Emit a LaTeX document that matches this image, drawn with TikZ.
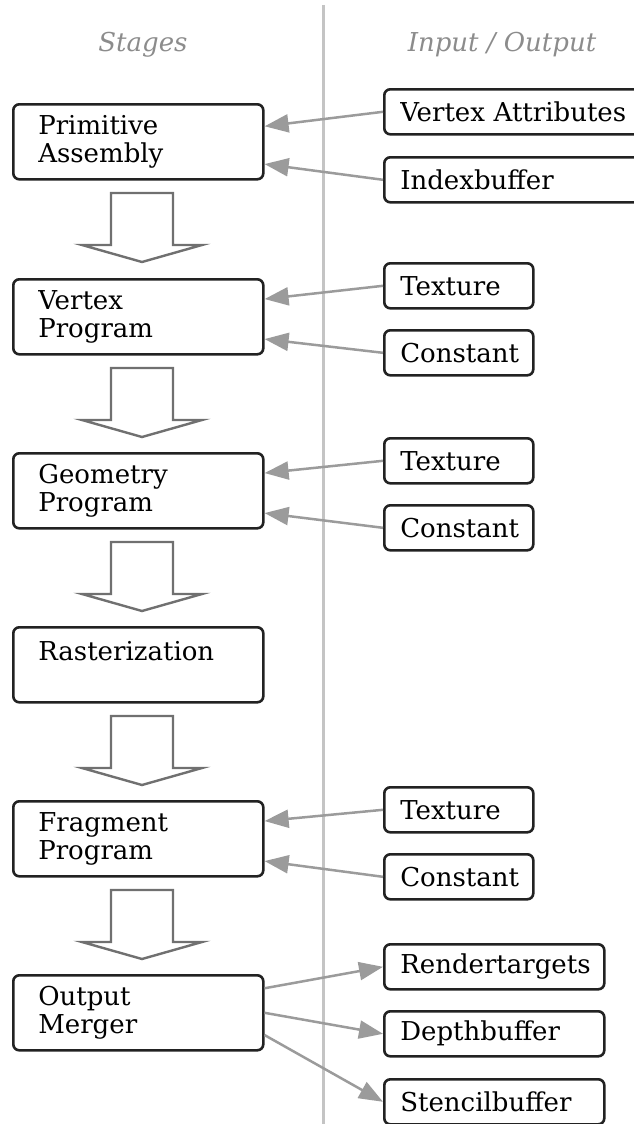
\documentclass[tikz,border=0pt]{standalone}
\usepackage{fontspec}
\setmainfont{DejaVu Serif}
\usepackage{xcolor}
\usepackage{tikz}
\usetikzlibrary{arrows.meta}

\definecolor{feedgray}{RGB}{155,155,155}
\definecolor{rulegray}{RGB}{196,196,196}
\definecolor{headgray}{RGB}{140,140,140}
\definecolor{flowgray}{RGB}{112,112,112}

\tikzset{
  stagebox/.style={draw={rgb, 255:red, 34; green, 34; blue, 34}, line width=2.6pt, rounded corners=6pt, anchor=north west,
    minimum width=250pt, minimum height=75pt, text width=200pt, inner xsep=25pt, align=left,
    font=\fontsize{26}{28}\selectfont},
  iobox/.style={draw={rgb, 255:red, 34; green, 34; blue, 34}, line width=2.6pt, rounded corners=6pt, anchor=north west,
    minimum height=45pt, inner xsep=16pt, align=left, font=\fontsize{26}{28}\selectfont},
  feed/.style={draw=feedgray, line width=2.5pt, -{Triangle[length=24pt,width=18pt,fill=feedgray]}},
  headline/.style={text=headgray, font=\fontsize{26}{28}\selectfont\itshape},
  flowarrow/.style={draw=flowgray, line width=2.4pt, fill=white},
}

\begin{document}
\begin{tikzpicture}[x=1pt,y=1pt,yscale=-1,xscale=1]
\useasboundingbox (0,0) rectangle (633,1124);

%Divider
\draw [rulegray, line width=3pt] (323,5) -- (323,1124);

% Text Node
\node [headline] (stagehead) at (143,45) {Stages};
% Text Node
\node [headline] (iohead) at (502,45) {Input / Output};

%Stages
\node [stagebox] (pa) at (12,103) {Primitive\\Assembly};
\node [stagebox] (vp) at (12,278) {Vertex\\Program};
\node [stagebox] (gp) at (12,452) {Geometry\\Program};
\node [stagebox] (ras) at (12,626) {Rasterization\\\mbox{}};
\node [stagebox] (fp) at (12,800) {Fragment\\Program};
\node [stagebox] (om) at (12,974) {Output\\Merger};

%Down Arrows
\foreach \y in {193,368,542,716,890}
  \draw [flowarrow] (111,\y) -- (173,\y) -- (173,\y+52) -- (202,\y+52) -- (142,\y+69) -- (82,\y+52) -- (111,\y+52) -- cycle ;

%Inputs / Outputs
\node [iobox, text width=238pt] (va) at (383,88) {Vertex Attributes};
\node [iobox, text width=238pt] (ib) at (383,156) {Indexbuffer};
\node [iobox, text width=117pt] (vtex) at (383,262) {Texture};
\node [iobox, text width=117pt] (vcon) at (383,329) {Constant};
\node [iobox, text width=117pt] (gtex) at (383,437) {Texture};
\node [iobox, text width=117pt] (gcon) at (383,504) {Constant};
\node [iobox, text width=117pt] (ftex) at (383,786) {Texture};
\node [iobox, text width=117pt] (fcon) at (383,853) {Constant};
\node [iobox, text width=188pt] (rt) at (383,943) {Rendertargets};
\node [iobox, text width=188pt] (db) at (383,1010) {Depthbuffer};
\node [iobox, text width=188pt] (sb) at (383,1078) {Stencilbuffer};

%Feeds
\draw [feed] (va.west) -- (pa.7);
\draw [feed] (ib.west) -- (pa.-10);
\draw [feed] (vtex.west) -- (vp.8);
\draw [feed] (vcon.west) -- (vp.-10);
\draw [feed] (gtex.west) -- (gp.8);
\draw [feed] (gcon.west) -- (gp.-10);
\draw [feed] (ftex.west) -- (fp.8);
\draw [feed] (fcon.west) -- (fp.-10);
\draw [feed] (om.11) -- (rt.west);
\draw [feed] (om.east) -- (db.west);
\draw [feed] (om.-10.5) -- (sb.west);

\end{tikzpicture}
\end{document}
